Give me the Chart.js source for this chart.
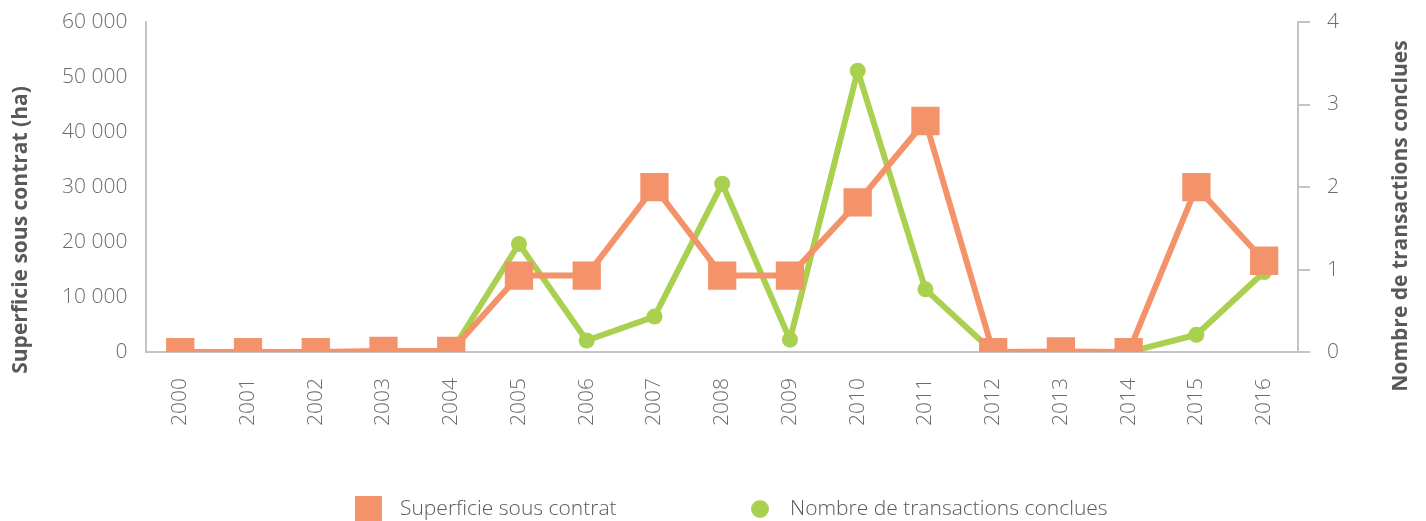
<!DOCTYPE html>
<html>
<head>
<meta charset="utf-8">
<script src="https://cdn.jsdelivr.net/npm/chart.js@4.4.0/dist/chart.umd.min.js"></script>
<style>
  html, body { margin: 0; padding: 0; background: #fff; }
  #wrap { width: 1426px; height: 521px; position: relative; }
</style>
</head>
<body>
<div id="wrap"><canvas id="chart"></canvas></div>
<script>
(function(){

    "use strict"

    // data
    const years = ["2000", "2001", "2002", "2003", "2004", "2005", "2006", "2007", "2008",
                   "2009", "2010", "2011", "2012", "2013", "2014", "2015", "2016"];
    const superficie = [0, 0, 0, 200, 200, 13900, 13900, 30000, 13900, 13900, 27200, 42000, 0, 100, 0, 30000, 16600];
    const transactions = [0, 0, 0, 0, 0, 1.31, 0.14, 0.43, 2.04, 0.15, 3.41, 0.76, 0, 0, 0, 0.21, 0.97];
    const leftTicks = [0, 10000, 20000, 30000, 40000, 50000, 60000];
    const rightTicks = [0, 1, 2, 3, 4];

    const orange = "#F4926A";
    const green = "#A9D14F";
    const tickColor = "#6b6b6b";
    const titleColor = "#595959";
    const lineGrey = "#c4c4c4";
    const family = "'Open Sans', 'Noto Sans', sans-serif";

    // "60 000" style
    function fmt(v) {
        return String(v).replace(/\B(?=(\d{3})+(?!\d))/g, " ");
    }

    // tick padding also pushes the plot down, drop that part
    function noVerticalPad(scale) {
        scale.paddingTop = 0;
        scale.paddingBottom = 0;
    }

    // both axis titles read bottom-to-top and sit a bit below the middle of the axis
    const axisTitles = {
        id: "axisTitles",
        afterDraw(chart) {
            const ctx = chart.ctx;
            const titles = [
                { x: 21, y: 230, text: "Superficie sous contrat (ha)" },
                { x: 1401, y: 216, text: "Nombre de transactions conclues" }
            ];
            titles.forEach(function(t) {
                ctx.save();
                ctx.translate(t.x, t.y);
                ctx.rotate(-Math.PI / 2);
                ctx.font = "bold 21px " + family;
                ctx.fillStyle = titleColor;
                ctx.textAlign = "center";
                ctx.textBaseline = "middle";
                ctx.fillText(t.text, 0, 0);
                ctx.restore();
            });
        }
    };

    // legend under the chart, two items
    const bottomLegend = {
        id: "bottomLegend",
        afterDraw(chart) {
            const ctx = chart.ctx;
            const y = 509;
            const ds = chart.data.datasets;
            ctx.save();
            ctx.font = "300 21px " + family;
            ctx.textBaseline = "middle";
            ctx.textAlign = "left";
            // square
            ctx.fillStyle = ds[0].backgroundColor;
            ctx.fillRect(355, y - 13, 27, 27);
            ctx.fillStyle = titleColor;
            ctx.fillText(ds[0].label, 400, y);
            // circle
            ctx.fillStyle = ds[1].backgroundColor;
            ctx.beginPath();
            ctx.arc(760, y, 9, 0, Math.PI * 2);
            ctx.fill();
            ctx.fillStyle = titleColor;
            ctx.fillText(ds[1].label, 790, y);
            ctx.restore();
        }
    };

    const tickFont = { family: family, size: 21, weight: 300 };

    new Chart(document.getElementById("chart"), {
        type: "line",
        data: {
            labels: years,
            datasets: [{
                label: "Superficie sous contrat",
                data: superficie,
                yAxisID: "y",
                borderColor: orange,
                backgroundColor: orange,
                borderWidth: 6,
                borderJoinStyle: "round",
                pointStyle: "rect",
                pointRadius: 20,
                pointBorderWidth: 0,
                tension: 0
            }, {
                label: "Nombre de transactions conclues",
                data: transactions,
                yAxisID: "y1",
                borderColor: green,
                backgroundColor: green,
                borderWidth: 6,
                borderJoinStyle: "round",
                pointStyle: "circle",
                pointRadius: 8,
                pointBorderWidth: 0,
                tension: 0
            }]
        },
        options: {
            responsive: true,
            maintainAspectRatio: false,
            animation: false,
            layout: { autoPadding: false, padding: { top: 22, right: 70, bottom: 69, left: 43 } },
            plugins: {
                legend: { display: false },
                tooltip: { enabled: false }
            },
            scales: {
                x: {
                    offset: true,
                    grid: { display: false, drawTicks: false },
                    border: { color: lineGrey, width: 2 },
                    ticks: { minRotation: 90, maxRotation: 90, padding: 26, color: tickColor, font: tickFont }
                },
                y: {
                    position: "left",
                    min: 0,
                    max: 60000,
                    afterBuildTicks: function(scale) { scale.ticks = leftTicks.map(v => ({ value: v })); },
                    afterFit: noVerticalPad,
                    grid: { display: false, drawTicks: false },
                    border: { color: lineGrey, width: 2 },
                    ticks: { padding: 19, color: tickColor, font: tickFont, callback: v => fmt(v) }
                },
                y1: {
                    position: "right",
                    min: 0,
                    max: 4,
                    afterBuildTicks: function(scale) { scale.ticks = rightTicks.map(v => ({ value: v })); },
                    afterFit: noVerticalPad,
                    grid: { display: true, drawOnChartArea: false, drawTicks: true, tickLength: 12, color: lineGrey, lineWidth: 2 },
                    border: { color: lineGrey, width: 2 },
                    ticks: { padding: 17, color: tickColor, font: tickFont }
                }
            }
        },
        plugins: [axisTitles, bottomLegend]
    });

}());
</script>
</body>
</html>
